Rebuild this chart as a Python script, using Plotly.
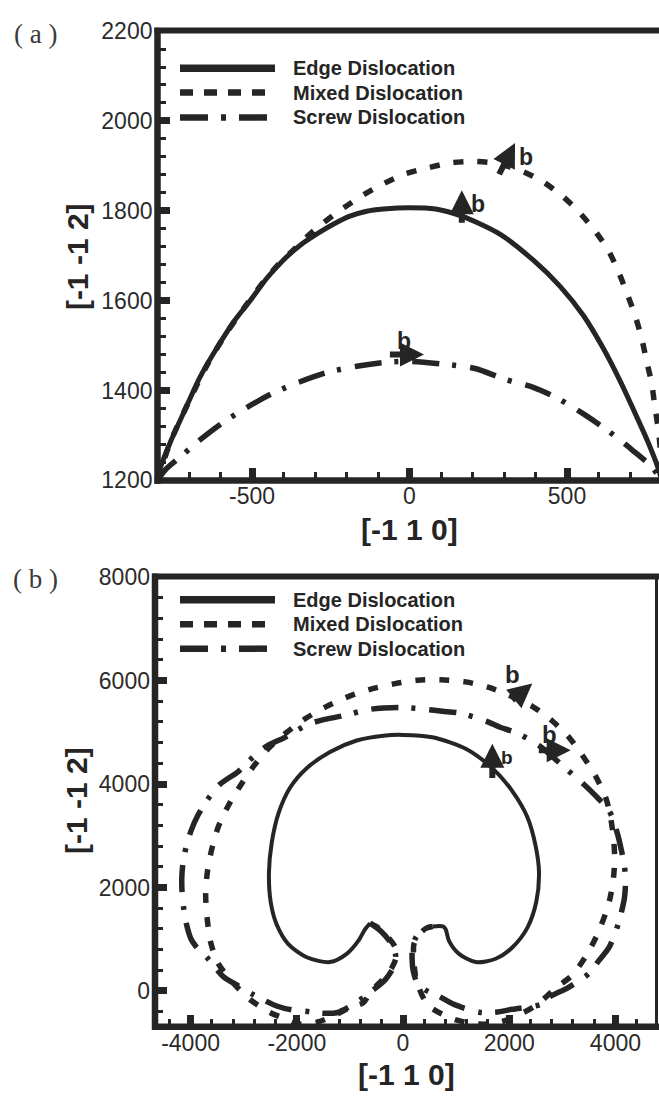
import plotly.graph_objects as go

W, H = 659, 1104
INK = "#252525"

# ---------------- Panel (a) data ----------------
edge_a_x = [-800, -792, -760, -718, -665, -612, -559, -506, -453, -401, -348, -295, -242, -189, -136, -83, 0,
            83, 166, 287, 393, 478, 552, 615, 668, 721, 758, 790, 800]
edge_a_y = [1200, 1226, 1284, 1349, 1430, 1494, 1552, 1600, 1650, 1690, 1723, 1748, 1770, 1788, 1799, 1804, 1807,
            1804, 1788, 1748, 1690, 1632, 1567, 1494, 1422, 1342, 1284, 1226, 1200]

mixed_a_x = [-800, -760, -700, -640, -580, -520, -460, -400, -379, -326, -274, -210, -147, -83, -14, 60, 134, 208,
             287, 361, 425, 488, 541, 589, 631, 663, 690, 716, 737, 753, 769, 779, 790, 797, 800]
mixed_a_y = [1200, 1284, 1376, 1460, 1529, 1589, 1645, 1693, 1706, 1742, 1773, 1806, 1835, 1860, 1882, 1896, 1907,
             1910, 1904, 1887, 1864, 1831, 1795, 1755, 1712, 1665, 1617, 1567, 1516, 1465, 1415, 1364, 1313, 1260,
             1200]

screw_a_x = [-800, -776, -723, -676, -602, -522, -437, -353, -263, -168, -72, 0, 118, 208, 303, 393, 472, 557, 631,
             710, 769, 800]
screw_a_y = [1200, 1223, 1255, 1284, 1324, 1360, 1393, 1418, 1440, 1454, 1463, 1465, 1458, 1449, 1425, 1407, 1382,
             1346, 1310, 1266, 1230, 1200]

# ---------------- Panel (b) data ----------------
edge_b_x = [-620, -716, -842, -1060, -1375, -1814, -2160, -2379, -2492, -2524, -2473, -2348, -2128, -1814, -1375,
            -872, -371, 0, 552, 1181, 1682, 2058, 2341, 2499, 2561, 2510, 2341, 2058, 1746, 1369, 1055, 866, 804,
            760, 680, 560]
edge_b_y = [1310, 1190, 969, 718, 559, 653, 907, 1284, 1724, 2291, 2857, 3424, 3928, 4306, 4620, 4841, 4935, 4950,
            4903, 4683, 4306, 3864, 3362, 2795, 2291, 1724, 1220, 842, 623, 559, 718, 969, 1190, 1245, 1258, 1245]

mixed_b_x = [-620, -450, -371, -250, -150, -130, -200, -300, -450, -600, -747, -998, -1250, -1600, -1940, -2160,
             -2505, -2881, -3164, -3478, -3621, -3685, -3716, -3685, -3603, -3478, -3290, -3070, -2819, -2536,
             -2191, -1814, -1437, -1030, -621, -151, 269, 710, 1181, 1620, 2030, 2435, 2812, 3126, 3377, 3629,
             3817, 3900, 3960, 3985, 3965, 3900, 3817, 3659, 3471, 3188, 2876, 2529, 2203, 1900, 1600, 1300, 1000,
             800, 527, 400, 300, 230, 205, 207, 333, 450, 560]
mixed_b_y = [1310, 1210, 1126, 1000, 850, 650, 470, 320, 150, 0, -226, -321, -450, -600, -640, -560, -416, -164,
             119, 529, 937, 1379, 1851, 2291, 2731, 3173, 3581, 3958, 4336, 4684, 4997, 5280, 5502, 5690, 5828,
             5941, 6006, 6017, 5974, 5866, 5700, 5502, 5218, 4903, 4557, 4147, 3739, 3400, 3000, 2600, 2200, 1800,
             1503, 1095, 718, 308, 57, -259, -450, -580, -640, -630, -560, -480, -321, -164, 60, 330, 600, 907,
             1126, 1220, 1245]

screw_b_x = [-620, -420, -230, -140, -170, -340, -550, -750, -1000, -1250, -1500, -1751, -2096, -2379, -2819,
             -3101, -3384, -3697, -3850, -3990, -4080, -4130, -4160, -4165, -4140, -4080, -3990, -3860, -3680,
             -3440, -3102, -2755, -2536, -2222, -1783, -1469, -1154, -653, -371, 0, 458, 740, 1055, 1557, 1840,
             2122, 2561, 3058, 3409, 3629, 3880, 4036, 4110, 4170, 4190, 4170, 4130, 4050, 3880, 3691, 3503, 3094,
             2781, 2593, 2058, 1746, 1431, 960, 678, 420, 270, 190, 172, 178, 250, 400, 560]
screw_b_y = [1310, 1160, 930, 700, 480, 210, 30, -130, -300, -420, -430, -400, -365, -290, -70, 100, 276, 653,
             800, 1000, 1300, 1600, 1900, 2200, 2500, 2800, 3100, 3400, 3700, 4000, 4242, 4590, 4750, 4903, 5156,
             5250, 5313, 5439, 5469, 5480, 5439, 5407, 5375, 5218, 5092, 4997, 4746, 4306, 3990, 3770, 3486, 3046,
             2731, 2417, 2100, 1800, 1598, 1283, 842, 591, 340, 57, -102, -259, -353, -410, -410, -259, -102, 20,
             150, 400, 600, 842, 1050, 1200, 1245]

legend_names = ["Edge Dislocation", "Mixed Dislocation", "Screw Dislocation"]
x_title = "[-1 1 0]"
y_title = "[-1 -1 2]"

a_xticks = [-500, 0, 500]
a_yticks = [1200, 1400, 1600, 1800, 2000, 2200]
b_xticks = [-4000, -2000, 0, 2000, 4000]
b_yticks = [0, 2000, 4000, 6000, 8000]

# Burgers-vector arrows: (tail x, tail y, head x, head y, label x, label y)
arrows_a = [(166, 1770, 166, 1846, 216, 1815),
            (282, 1878, 335, 1951, 369, 1920),
            (-67, 1480, 46, 1480, -17, 1510)]
arrows_b = [(1682, 4086, 1682, 4778, 1949, 4510),
            (2028, 5596, 2435, 5941, 2053, 6115),
            (2529, 4651, 3158, 4651, 2750, 4953)]

MIXED_DASH = "10px,14px"
SCREW_DASH = "27px,13px,4px,14px"

fig = go.Figure()

def add_curves(xs, ys, xa, ya, widths):
    styles = ["solid", MIXED_DASH, SCREW_DASH]
    for (x, y), st, w, nm in zip(zip(xs, ys), styles, widths, legend_names):
        fig.add_trace(go.Scatter(x=x, y=y, mode="lines", name=nm, xaxis=xa, yaxis=ya,
                                 line=dict(color=INK, width=w, dash=st, shape="spline", smoothing=0.8),
                                 showlegend=False, hoverinfo="skip"))

add_curves([edge_a_x, mixed_a_x, screw_a_x], [edge_a_y, mixed_a_y, screw_a_y], "x", "y", [5, 5.5, 5.5])
add_curves([edge_b_x, mixed_b_x, screw_b_x], [edge_b_y, mixed_b_y, screw_b_y], "x2", "y2", [4, 5.5, 5.5])

tickfont = dict(family="Arial, Liberation Sans, sans-serif", size=23, color="#2b2b2b")

def axis(domain, rng, vals, minor_dtick, anchor, standoff):
    return dict(domain=domain, range=rng, anchor=anchor, tickmode="array", tickvals=vals,
                ticktext=[str(v) for v in vals],
                ticks="inside", ticklen=12, tickwidth=7, tickcolor=INK,
                minor=dict(dtick=minor_dtick, tick0=0, ticks="inside", ticklen=8, tickwidth=3, tickcolor=INK,
                           showgrid=False),
                showgrid=False, zeroline=False, showline=False, tickfont=tickfont,
                ticklabelstandoff=standoff, fixedrange=True)

fig.update_layout(
    width=W, height=H, autosize=False,
    margin=dict(l=0, r=0, t=0, b=0, pad=0),
    paper_bgcolor="white", plot_bgcolor="white",
    showlegend=False,
    xaxis=axis([157.5 / W, 1.0], [-800, 792], a_xticks, 100, "y", 0),
    yaxis=axis([1 - 478.7 / H, 1 - 18.5 / H], [1200, 2200], a_yticks, 40, "x", 4),
    xaxis2=axis([155 / W, 657 / W], [-4670, 4783], b_xticks, 400, "y2", 0),
    yaxis2=axis([1 - 1038.3 / H, 1 - 577 / H], [-693, 8013], b_yticks, 400, "x2", 4),
)

def fx(X):
    return X / W

def fy(Y):
    return 1 - Y / H

shapes = []

def hline(Y, X0, X1, w):
    shapes.append(dict(type="line", xref="paper", yref="paper", x0=fx(X0), x1=fx(X1), y0=fy(Y), y1=fy(Y),
                       line=dict(color=INK, width=w), layer="below"))

def vline(X, Y0, Y1, w):
    shapes.append(dict(type="line", xref="paper", yref="paper", x0=fx(X), x1=fx(X), y0=fy(Y0), y1=fy(Y1),
                       line=dict(color=INK, width=w), layer="below"))

# frames
vline(157.5, 15, 482, 6.5)
hline(478.7, 154.5, 659, 6.5)
hline(17.8, 154.5, 659, 6)
vline(155, 574, 1041.5, 6.5)
hline(1038.3, 152, 659, 6.5)
hline(577, 152, 659, 6)
vline(656.5, 577, 1038, 3)

annotations = []

def legend(rows_y):
    dashes = ["solid", "13px,11px", "28px,13px,5px,13px"]
    widths = [7.5, 6.5, 6.5]
    for Y, d, w, nm in zip(rows_y, dashes, widths, legend_names):
        shapes.append(dict(type="line", xref="paper", yref="paper", x0=fx(180), x1=fx(275), y0=fy(Y), y1=fy(Y),
                           line=dict(color=INK, width=w, dash=d), layer="above"))
        annotations.append(dict(xref="paper", yref="paper", x=fx(291), y=fy(Y), text="<b>%s</b>" % nm,
                                showarrow=False, xanchor="left", yanchor="middle",
                                font=dict(family="Arial, Liberation Sans, sans-serif", size=20, color=INK)))

legend([56.7, 81.5, 107.0])
legend([601, 626, 651])

def arrows(lst, xr, yr, sizes):
    for (tx, ty, hx, hy, lx, ly), s in zip(lst, sizes):
        annotations.append(dict(xref=xr, yref=yr, axref=xr, ayref=yr, x=hx, y=hy, ax=tx, ay=ty, text="",
                                showarrow=True, arrowhead=2, arrowsize=0.8, arrowwidth=6, arrowcolor=INK,
                                standoff=0, startstandoff=0))
        annotations.append(dict(xref=xr, yref=yr, x=lx, y=ly, text="<b>b</b>", showarrow=False,
                                xanchor="center", yanchor="middle",
                                font=dict(family="Arial, Liberation Sans, sans-serif", size=s, color=INK)))

arrows(arrows_a, "x", "y", [23, 23, 23])
arrows(arrows_b, "x2", "y2", [19, 24, 24])

# axis titles
title_font = dict(family="Arial, Liberation Sans, sans-serif", size=30, color=INK)
annotations.append(dict(xref="paper", yref="paper", x=fx(409), y=fy(529), text="<b>%s</b>" % x_title,
                        showarrow=False, xanchor="center", yanchor="middle", font=title_font))
annotations.append(dict(xref="paper", yref="paper", x=fx(406), y=fy(1087), text="<b>%s</b>" % x_title,
                        showarrow=False, xanchor="center", yanchor="middle", font=title_font))
annotations.append(dict(xref="paper", yref="paper", x=fx(77), y=fy(250), text="<b>%s</b>" % y_title,
                        showarrow=False, xanchor="center", yanchor="middle", textangle=-90, font=title_font))
annotations.append(dict(xref="paper", yref="paper", x=fx(77), y=fy(807), text="<b>%s</b>" % y_title,
                        showarrow=False, xanchor="center", yanchor="middle", textangle=-90, font=title_font))

# panel labels
lab_font = dict(family="Liberation Serif, Times New Roman, serif", size=27, color="#3a3a3a")
annotations.append(dict(xref="paper", yref="paper", x=fx(35.5), y=fy(21.5), text="( a )", showarrow=False,
                        xanchor="center", yanchor="middle", font=lab_font))
annotations.append(dict(xref="paper", yref="paper", x=fx(35.5), y=fy(580), text="( b )", showarrow=False,
                        xanchor="center", yanchor="middle", font=lab_font))

fig.update_layout(shapes=shapes, annotations=annotations)
fig.write_html("out.html", config={"displayModeBar": False},
               post_script="document.body.style.margin='0';document.body.style.padding='0';"
                           "document.body.style.overflow='hidden';")
